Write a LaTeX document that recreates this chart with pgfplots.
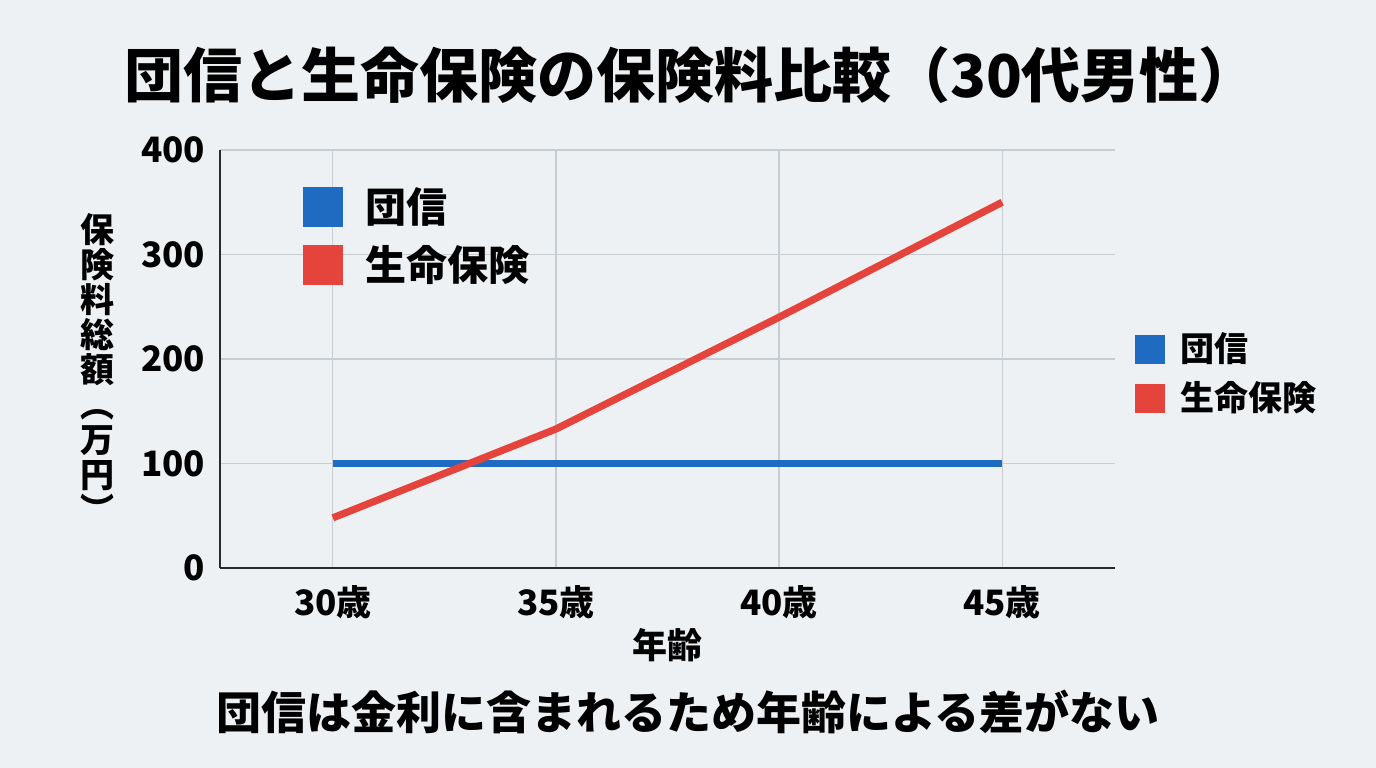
\documentclass[border=0pt]{standalone}
\usepackage{fontspec}
\setmainfont{Noto Sans CJK JP}
\usepackage{pgfplots}
\pgfplotsset{compat=1.18}
\definecolor{bgcol}{HTML}{EDF1F3}
\definecolor{bluec}{HTML}{1F6BC2}
\definecolor{redc}{HTML}{E4443B}
\definecolor{gridc}{HTML}{C8CDD1}
\definecolor{axc}{HTML}{2A2A2A}
\begin{document}
\begin{tikzpicture}
\fill[bgcol] (0,0) rectangle (688bp,-384bp);
\path[use as bounding box] (0,0) rectangle (688bp,-384bp);
% title
\node[font=\fontsize{29.5bp}{33bp}\selectfont\bfseries] at (345.5bp,-37.5bp) {団信と生命保険の保険料比較（30代男性）};
\begin{axis}[
  at={(110bp,-284bp)}, anchor=south west,
  scale only axis, width=447.5bp, height=209bp,
  xmin=27.47, xmax=47.53, ymin=0, ymax=400,
  xtick={30,35,40,45}, xticklabels={30歳,35歳,40歳,45歳},
  ytick={0,100,200,300,400},
  axis x line*=bottom, axis y line*=left,
  axis line style={draw=axc, line width=0.8bp, -},
  major tick length=0pt,
  grid=major, major grid style={draw=gridc, line width=0.6bp},
  tick label style={font=\fontsize{17.5bp}{20bp}\selectfont\bfseries},
  /pgf/number format/assume math mode=true,
  xticklabel style={yshift=-5bp},
  yticklabel style={xshift=-4bp},
  xlabel={年齢},
  xlabel style={font=\fontsize{17.5bp}{20bp}\selectfont\bfseries, at={(axis description cs:0.5,-0.184)}, anchor=center},
  clip=false,
]
\addplot[color=bluec, line width=3.6bp] coordinates {(30,100) (35,100) (40,100) (45,100)};
\addplot[color=redc, line width=3.6bp] coordinates {(30,48) (35,133) (40,240) (45,350)};
\end{axis}
% y label (vertical)
\node[font=\fontsize{17bp}{17.5bp}\selectfont\bfseries, align=center, inner sep=0pt] at (48.5bp,-184bp) {保\\険\\料\\総\\額\\︵\\万\\円\\︶};
% inner legend
\fill[bluec] (151.5bp,-93.5bp) rectangle (171.5bp,-113.5bp);
\fill[redc] (151.5bp,-122.5bp) rectangle (171.5bp,-142.5bp);
\node[anchor=west, inner sep=0pt, font=\fontsize{20.5bp}{22bp}\selectfont\bfseries] at (182.5bp,-103.5bp) {団信};
\node[anchor=west, inner sep=0pt, font=\fontsize{20.5bp}{22bp}\selectfont\bfseries] at (182.5bp,-132.5bp) {生命保険};
% right legend
\fill[bluec] (567.5bp,-167.5bp) rectangle (582.5bp,-182bp);
\fill[redc] (567.5bp,-192bp) rectangle (582.5bp,-206.5bp);
\node[anchor=west, inner sep=0pt, font=\fontsize{17bp}{19bp}\selectfont\bfseries] at (590bp,-174.5bp) {団信};
\node[anchor=west, inner sep=0pt, font=\fontsize{17bp}{19bp}\selectfont\bfseries] at (590bp,-199bp) {生命保険};
% bottom note
\node[font=\fontsize{22.5bp}{25bp}\selectfont\bfseries] at (344bp,-356bp) {団信は金利に含まれるため年齢による差がない};
\end{tikzpicture}
\end{document}
